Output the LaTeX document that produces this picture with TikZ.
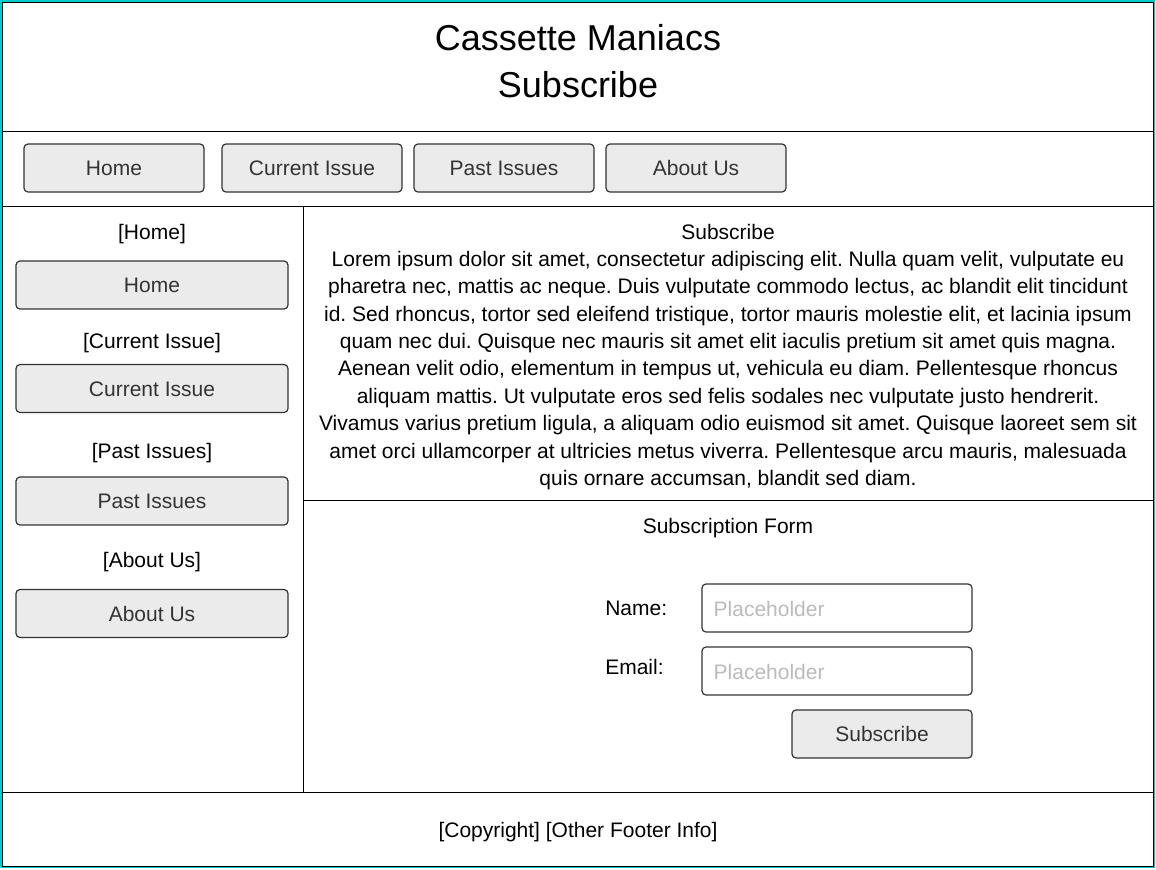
\documentclass[tikz,border=0pt]{standalone}
\usepackage{fontspec}
\setmainfont{Liberation Sans}
\usetikzlibrary{positioning}
\definecolor{btnfill}{HTML}{EBEBEB}
\definecolor{btnline}{HTML}{333333}
\definecolor{hint}{HTML}{BBBBBB}
\definecolor{frame}{HTML}{00CCCC}
\frenchspacing

\begin{document}
\begin{tikzpicture}[x=0.75pt,y=-0.75pt,
  lbl/.style={font=\fontsize{15.75}{19}\selectfont,text height=11.3pt,text depth=0pt,inner sep=0pt},
  navbtn/.style={lbl,draw=btnline,line width=0.9pt,fill=btnfill,rounded corners=3pt,minimum width=135pt,minimum height=36pt,text=btnline},
  sidebtn/.style={navbtn,minimum width=204pt},
  field/.style={draw=btnline,line width=0.9pt,fill=white,rounded corners=3pt,minimum width=202.5pt,minimum height=36pt,inner sep=0pt},
  hinttext/.style={lbl,text=hint,anchor=west},
  sep/.style={line width=0.75pt}]

\useasboundingbox (0,0) rectangle (1156,869);

\draw[frame,line width=1.5pt] (1,1) rectangle (1154,867);
\draw[sep] (2,2) rectangle (1153,866);
\draw[sep]
(2,131) -- (1153,131)
(2,206) -- (1153,206)
(303,206) -- (303,792)
(303,500) -- (1153,500)
(2,792) -- (1153,792)
;

\node(title) [align=center,font=\fontsize{27}{35.25}\selectfont,inner sep=0pt] at (578,61.5)
{Cassette Maniacs\\Subscribe};

\draw (114,168) node(nav-1) [navbtn] {Home}
++(198,0) node(nav-2) [navbtn] {Current Issue}
++(192,0) node(nav-3) [navbtn] {Past Issues}
++(192,0) node(nav-4) [navbtn] {About Us}
;

\draw (152,232) node(side-1) [lbl] {[Home]}
++(0,53) node(side-1*) [sidebtn] {Home}
++(0,56) node(side-2) [lbl] {[Current Issue]}
++(0,47.5) node(side-2*) [sidebtn] {Current Issue}
++(0,62.5) node(side-3) [lbl] {[Past Issues]}
++(0,50) node(side-3*) [sidebtn] {Past Issues}
++(0,59) node(side-4) [lbl] {[About Us]}
++(0,53.5) node(side-4*) [sidebtn] {About Us}
;

\node(sub-head) [lbl] at (728,232) {Subscribe};
\node(sub-text) [align=center,font=\fontsize{15.75}{20.55}\selectfont,inner sep=0pt] at (728,370.5)
{Lorem ipsum dolor sit amet, consectetur adipiscing elit. Nulla quam velit, vulputate eu\\
pharetra nec, mattis ac neque. Duis vulputate commodo lectus, ac blandit elit tincidunt\\
id. Sed rhoncus, tortor sed eleifend tristique, tortor mauris molestie elit, et lacinia ipsum\\
quam nec dui. Quisque nec mauris sit amet elit iaculis pretium sit amet quis magna.\\
Aenean velit odio, elementum in tempus ut, vehicula eu diam. Pellentesque rhoncus\\
aliquam mattis. Ut vulputate eros sed felis sodales nec vulputate justo hendrerit.\\
Vivamus varius pretium ligula, a aliquam odio euismod sit amet. Quisque laoreet sem sit\\
amet orci ullamcorper at ultricies metus viverra. Pellentesque arcu mauris, malesuada\\
quis ornare accumsan, blandit sed diam.};

\node(form-head) [lbl] at (728,526) {Subscription Form};

\draw (837,608) node(name-box) [field] {}
++(0,63) node(email-box) [field] {}
++(45,63) node(submit) [navbtn] {Subscribe}
;
\node(name-lbl) [lbl,anchor=west] at (605,607.5) {Name:};
\node(email-lbl) [lbl,anchor=west] at (605,667) {Email:};
\node(name-hint) [hinttext] at ([xshift=9pt,yshift=-0.75pt]name-box.west) {Placeholder};
\node(email-hint) [hinttext] at ([xshift=9pt,yshift=-0.75pt]email-box.west) {Placeholder};

\node(footer) [lbl] at (578,830) {[Copyright] [Other Footer Info]};

\end{tikzpicture}
\end{document}
